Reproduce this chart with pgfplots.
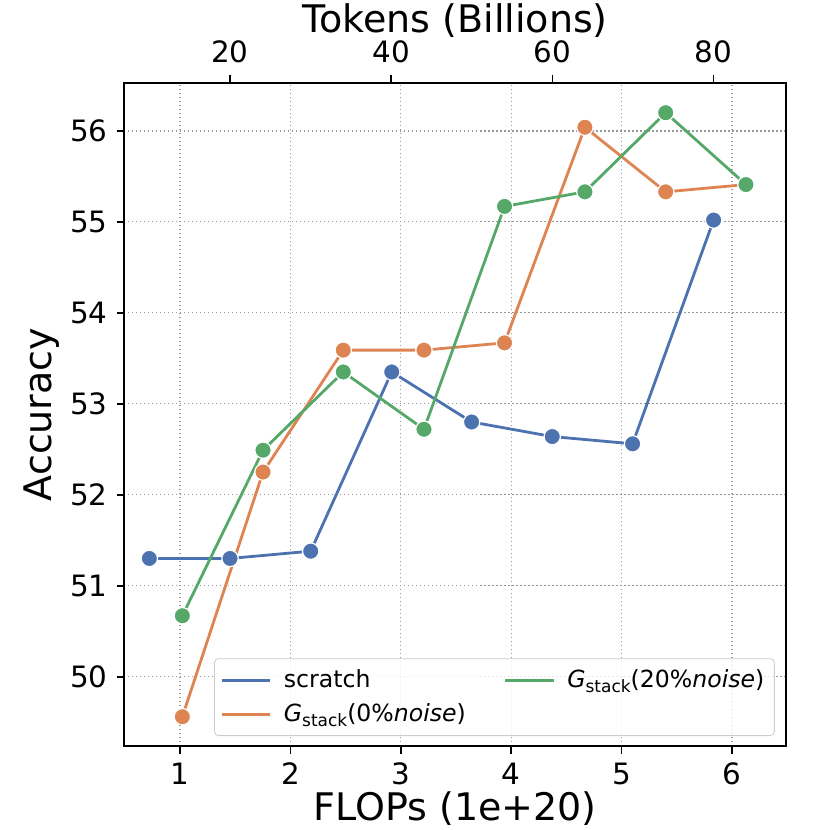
\documentclass[border=0pt]{standalone}
\usepackage{fontspec}
\setmainfont{DejaVu Sans}
\usepackage{pgfplots}
\pgfplotsset{compat=1.18}
\definecolor{cB}{HTML}{4C72B0}
\definecolor{cO}{HTML}{DD8452}
\definecolor{cG}{HTML}{55A868}
\newcommand{\gstack}{\textit{G}\raisebox{-0.35ex}{\fontsize{8.5}{9}\selectfont stack}}
\begin{document}
\begin{tikzpicture}
\useasboundingbox (-62.15pt,-41.85pt) rectangle (352.85pt,373.15pt);
\begin{axis}[
 at={(0,0)}, anchor=south west, scale only axis,
 width=330.85pt, height=331.8pt,
 xmin=0.495, xmax=6.49, ymin=49.235, ymax=56.53,
 xtick={1,2,3,4,5,6}, ytick={50,51,52,53,54,55,56},
 xtick pos=bottom, ytick pos=left, tick align=outside,
 major tick length=3.85pt,
 every tick/.style={black, line width=0.8pt},
 axis line style={line width=0.9pt},
 grid=major, grid style={black!40, line width=0.6pt, dash pattern=on 0.6pt off 1.4pt},
 tick label style={font=\fontsize{14.7}{16}\selectfont},
 /pgf/number format/assume math mode=true,
 xticklabel style={anchor=north, inner sep=0pt, yshift=-4.3pt},
 yticklabel style={anchor=east, inner sep=0pt, xshift=-4.3pt},
 xlabel={FLOPs (1e+20)}, ylabel={Accuracy},
 label style={font=\fontsize{19}{21}\selectfont},
 xlabel style={at={(axis description cs:0.5,-0.1125)}, anchor=base},
 ylabel style={at={(axis description cs:-0.1097,0.5)}, anchor=base, rotate=0},
 legend style={at={(axis description cs:0.983,0.0155)}, anchor=south east,
   draw=black!20, rounded corners=2pt, fill=white, fill opacity=0.8, text opacity=1,
   font=\fontsize{11.8}{14}\selectfont, inner xsep=3pt, inner ysep=3.5pt,
   column sep=4pt, row sep=2.5pt,
   /tikz/every even column/.append style={column sep=17pt}},
 legend cell align=left, legend columns=2,
 legend image code/.code={\draw[#1] (0pt,0pt) -- (24.3pt,0pt);},
 every axis plot/.append style={line width=1.4pt, mark=*, mark size=4.1pt},
]
\addplot[cB, forget plot, mark options={fill=cB, draw=white, line width=0.6pt}] coordinates {
(0.722,51.30) (1.453,51.30) (2.184,51.38) (2.918,53.35) (3.642,52.80) (4.372,52.64) (5.100,52.56) (5.834,55.02)};
\addplot[cO, forget plot, mark options={fill=cO, draw=white, line width=0.6pt}] coordinates {
(1.021,49.56) (1.752,52.25) (2.479,53.59) (3.210,53.59) (3.940,53.67) (4.668,56.04) (5.400,55.33) (6.127,55.41)};
\addplot[cG, forget plot, mark options={fill=cG, draw=white, line width=0.6pt}] coordinates {
(1.021,50.67) (1.752,52.49) (2.479,53.35) (3.210,52.72) (3.940,55.17) (4.668,55.33) (5.400,56.20) (6.127,55.41)};
\addlegendimage{cB, line width=1.4pt}
\addlegendentry{scratch}
\addlegendimage{cG, line width=1.4pt}
\addlegendentry{\gstack(20\%\textit{noise})}
\addlegendimage{cO, line width=1.4pt}
\addlegendentry{\gstack(0\%\textit{noise})}
\end{axis}
\begin{axis}[
 at={(0,0)}, anchor=south west, scale only axis,
 width=330.85pt, height=331.8pt,
 xmin=6.89, xmax=89.0, ymin=0, ymax=1,
 axis x line*=top, axis y line=none,
 xtick={20,40,60,80}, ytick=\empty,
 tick align=outside, major tick length=3.85pt,
 every tick/.style={black, line width=0.8pt},
 axis line style={line width=0.9pt},
 tick label style={font=\fontsize{14.7}{16}\selectfont},
 /pgf/number format/assume math mode=true,
 xticklabel style={anchor=south, inner sep=0pt, yshift=5.8pt},
 xlabel={Tokens (Billions)},
 label style={font=\fontsize{19}{21}\selectfont},
 xlabel style={at={(axis description cs:0.5,1.0753)}, anchor=base},
]
\end{axis}
\end{tikzpicture}
\end{document}
